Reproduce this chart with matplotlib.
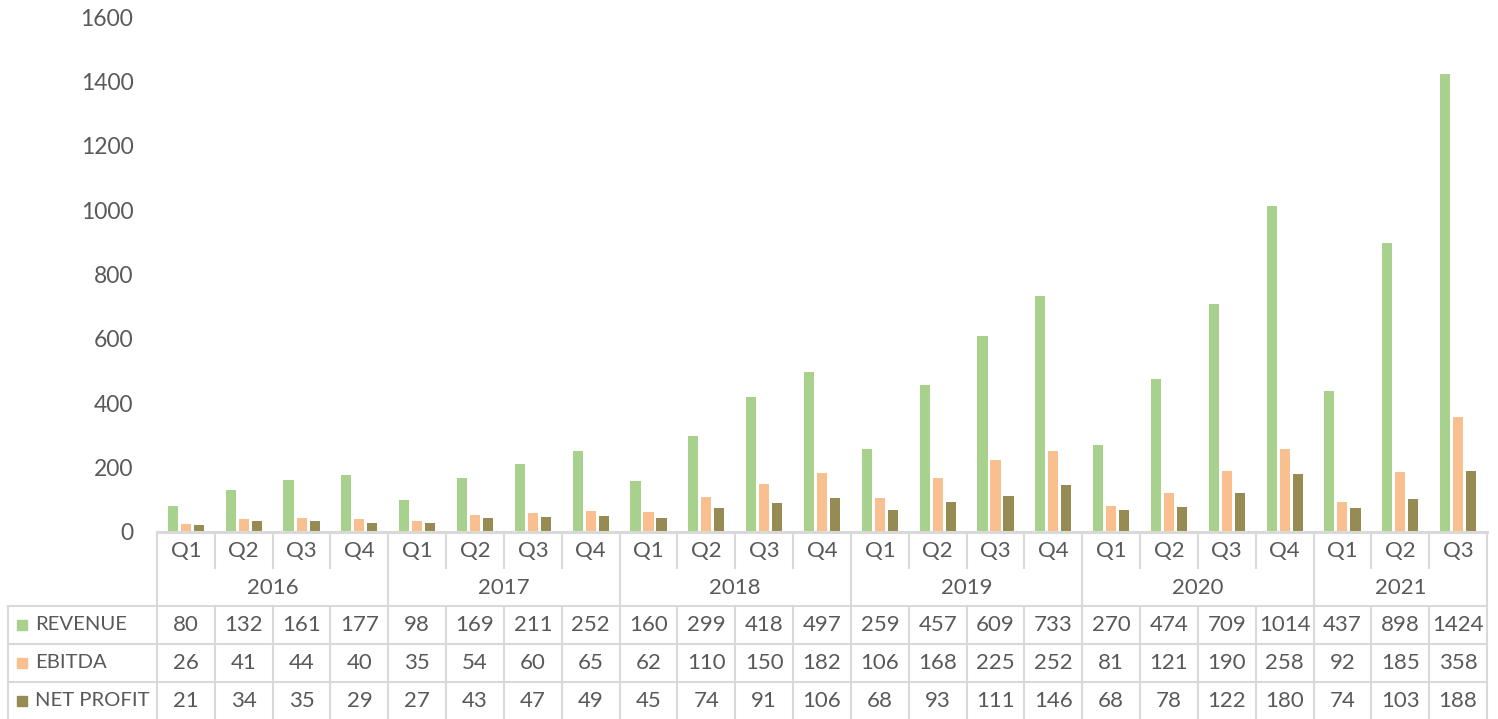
import matplotlib.pyplot as plt
import matplotlib.transforms as mtransforms
import numpy as np

years = ['2016', '2017', '2018', '2019', '2020', '2021']
quarters = ['Q1', 'Q2', 'Q3', 'Q4'] * 5 + ['Q1', 'Q2', 'Q3']
revenue = [80, 132, 161, 177, 98, 169, 211, 252, 160, 299, 418, 497,
           259, 457, 609, 733, 270, 474, 709, 1014, 437, 898, 1424]
ebitda = [26, 41, 44, 40, 35, 54, 60, 65, 62, 110, 150, 182,
          106, 168, 225, 252, 81, 121, 190, 258, 92, 185, 358]
net_profit = [21, 34, 35, 29, 27, 43, 47, 49, 45, 74, 91, 106,
              68, 93, 111, 146, 68, 78, 122, 180, 74, 103, 188]

series = [('REVENUE', revenue, '#A9D18E'),
          ('EBITDA', ebitda, '#F9BF8F'),
          ('NET PROFIT', net_profit, '#968B53')]

plt.rcParams['font.family'] = ['Lato', 'DejaVu Sans']
txt = '#595959'
grid = '#D9D9D9'
W, H = 1498, 719

fig = plt.figure(figsize=(W / 100, H / 100), dpi=100)
ax = fig.add_axes([157 / W, 1 - 532 / H, (1487 - 157) / W, (532 - 17) / H])

n = len(revenue)
x = np.arange(n)
bw = 0.175
step = 0.225
for i, (name, vals, col) in enumerate(series):
    ax.bar(x + (i - 1) * step, vals, width=bw, color=col, zorder=2)

ax.set_xlim(-0.5, n - 0.5)
ax.set_ylim(0, 1600)
ax.set_yticks(range(0, 1601, 200))
ax.tick_params(axis='y', length=0, pad=17, labelsize=16.5, labelcolor=txt)
ax.set_xticks([])
for s in ['top', 'right', 'left', 'bottom']:
    ax.spines[s].set_visible(False)

# table below the plot: x in data units, y in figure pixels
tr = mtransforms.blended_transform_factory(ax.transData, fig.transFigure)
px = lambda y: 1 - y / H
xl_outer = ax.transData.inverted().transform((8, 0))[0]
xl_inner = -0.5


def hline(y, x0, x1, lw=1.5):
    fig.add_artist(plt.Line2D([x0, x1], [px(y), px(y)], transform=tr,
                              color=grid, lw=lw, clip_on=False))


def vline(xv, y0, y1, lw=1.5):
    fig.add_artist(plt.Line2D([xv, xv], [px(y0), px(y1)], transform=tr,
                              color=grid, lw=lw, clip_on=False))


hline(532, xl_inner, n - 0.5, lw=2.2)
hline(606, xl_outer, n - 0.5)
hline(644, xl_outer, n - 0.5)
hline(682, xl_outer, n - 0.5)

year_starts = [0, 4, 8, 12, 16, 20]
for b in range(n + 1):
    xv = b - 0.5
    if b in year_starts or b == n:
        vline(xv, 532, 719)
    else:
        vline(xv, 532, 568)
        vline(xv, 606, 719)
vline(xl_outer, 606, 719)

for i, q in enumerate(quarters):
    fig.text(i, px(551), q, transform=tr, ha='center', va='center',
             fontsize=16, color=txt)

for k, yr in enumerate(years):
    a = year_starts[k]
    b = year_starts[k + 1] if k + 1 < len(years) else n
    fig.text((a + b - 1) / 2, px(588), yr, transform=tr, ha='center',
             va='center', fontsize=16, color=txt)

row_y = [625, 663, 701]
for (name, vals, col), ry in zip(series, row_y):
    fig.add_artist(plt.Rectangle((17 / W, px(ry + 5)), 10 / W, 10 / H,
                                 transform=fig.transFigure, color=col))
    fig.text(35 / W, px(ry), name, ha='left', va='center', fontsize=14.6,
             color=txt)
    for i, v in enumerate(vals):
        fig.text(i, px(ry), str(v), transform=tr, ha='center', va='center',
                 fontsize=16, color=txt)

fig.savefig('out.png', dpi=100)
